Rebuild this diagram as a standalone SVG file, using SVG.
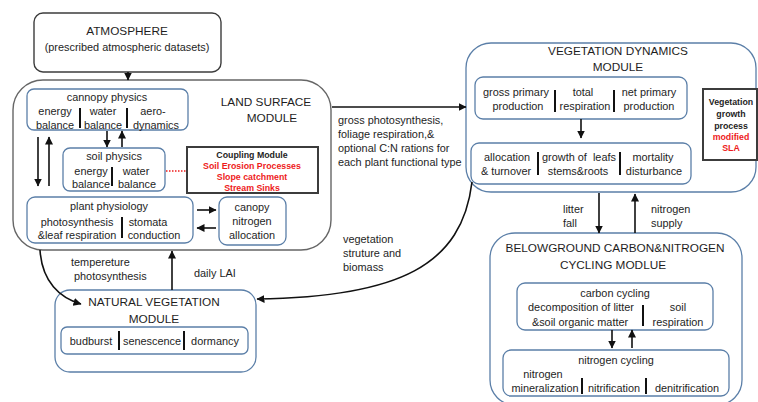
<svg xmlns="http://www.w3.org/2000/svg" width="758" height="402" viewBox="0 0 758 402">
<style>
text{font-family:"Liberation Sans",Arial,sans-serif;fill:#1e1e1e;text-anchor:middle;dominant-baseline:central;white-space:pre}
.t{font-size:10.9px}
.h{font-size:11.8px}
.b{font-size:8.8px;font-weight:bold}
.r{fill:#ee1c1c}
.l{text-anchor:start}
.nb{fill:#fff;stroke:#5b7fa8;stroke-width:1.3}
.gb{fill:#fff;stroke:#666;stroke-width:1.4}
.kb{fill:#fff;stroke:#3c3c3c;stroke-width:2}
.sep{stroke:#111;stroke-width:2}
.c{fill:none;stroke:#111;stroke-width:1.6;marker-end:url(#ah)}
</style>
<defs>
<marker id="ah" markerUnits="userSpaceOnUse" markerWidth="9" markerHeight="9" refX="7.5" refY="4" orient="auto">
<path d="M0,0 L8,4 L0,8 z" fill="#111"/>
</marker>
</defs>

<g id="atmosphere">
<rect x="34" y="13" width="187" height="59" rx="9" class="gb" style="stroke:#3c3c3c"/>
<text x="127" y="31" class="h">ATMOSPHERE</text>
<text x="127" y="47" class="t">(prescribed atmospheric datasets)</text>
</g>

<g id="land-surface">
<rect x="13" y="80" width="318" height="170" rx="30" class="gb"/>
<text x="266" y="102" class="h">LAND SURFACE</text>
<text x="272" y="118" class="h">MODULE</text>
</g>

<g id="canopy-physics">
<rect x="27" y="89" width="161" height="41" rx="7" class="nb"/>
<text x="107" y="97" class="t">cannopy physics</text>
<text x="55" y="111" class="t">energy</text>
<text x="55" y="125" class="t">balance</text>
<line x1="80" y1="108" x2="80" y2="128" class="sep"/>
<text x="103" y="111" class="t">water</text>
<text x="103" y="125" class="t">balance</text>
<line x1="127" y1="108" x2="127" y2="128" class="sep"/>
<text x="153" y="111" class="t">aero-</text>
<text x="156" y="125" class="t">dynamics</text>
</g>

<g id="soil-physics">
<rect x="63" y="148" width="102" height="43" rx="7" class="nb"/>
<text x="114" y="156" class="t">soil physics</text>
<text x="91" y="171" class="t">energy</text>
<text x="91" y="184" class="t">balance</text>
<line x1="112" y1="167" x2="112" y2="186" class="sep"/>
<text x="136" y="171" class="t">water</text>
<text x="137" y="184" class="t">balance</text>
</g>

<g id="coupling-module">
<rect x="187" y="147" width="131" height="46" class="kb"/>
<text x="252" y="155" class="b">Coupling Module</text>
<text x="252" y="166" class="b r">Soil Erosion Processes</text>
<text x="252" y="177" class="b r">Slope catchment</text>
<text x="252" y="188" class="b r">Stream Sinks</text>
</g>

<g id="plant-physiology">
<rect x="27" y="197" width="166" height="46" rx="8" class="nb"/>
<text x="109" y="206" class="t">plant physiology</text>
<text x="77" y="222" class="t">photosynthesis</text>
<text x="77" y="235" class="t">&amp;leaf respiration</text>
<line x1="122" y1="217" x2="122" y2="238" class="sep"/>
<text x="148" y="222" class="t">stomata</text>
<text x="154" y="235" class="t">conduction</text>
</g>

<g id="canopy-nitrogen">
<rect x="219" y="197" width="67" height="48" rx="8" class="nb"/>
<text x="252" y="207" class="t">canopy</text>
<text x="252" y="221" class="t">nitrogen</text>
<text x="252" y="235" class="t">allocation</text>
</g>

<g id="natural-vegetation">
<rect x="55" y="290" width="201" height="82" rx="15" class="nb"/>
<text x="154" y="302" class="h">NATURAL VEGETATION</text>
<text x="154" y="319" class="h">MODULE</text>
<rect x="61" y="327" width="187" height="27" rx="6" class="nb"/>
<text x="91" y="341" class="t">budburst</text>
<line x1="119" y1="331" x2="119" y2="350" class="sep"/>
<text x="152" y="341" class="t">senescence</text>
<line x1="184" y1="331" x2="184" y2="350" class="sep"/>
<text x="215" y="341" class="t">dormancy</text>
</g>

<g id="vegetation-dynamics">
<rect x="466" y="43" width="290" height="149" rx="25" class="nb"/>
<text x="618" y="51" class="h">VEGETATION DYNAMICS</text>
<text x="618" y="67" class="h">MODULE</text>
<rect x="475" y="77" width="212" height="42" rx="8" class="nb"/>
<text x="516" y="92" class="t">gross primary</text>
<text x="518" y="106" class="t">production</text>
<line x1="555" y1="90" x2="555" y2="112" class="sep"/>
<text x="583" y="92" class="t">total</text>
<text x="585" y="106" class="t">respiration</text>
<line x1="614" y1="90" x2="614" y2="112" class="sep"/>
<text x="649" y="92" class="t">net primary</text>
<text x="649" y="106" class="t">production</text>
<rect x="471" y="143" width="220" height="41" rx="8" class="nb"/>
<text x="507" y="157" class="t">allocation</text>
<text x="506" y="171" class="t">&amp; turnover</text>
<line x1="538" y1="152" x2="538" y2="175" class="sep"/>
<text x="579" y="157" class="t">growth of  leafs</text>
<text x="578" y="171" class="t">stems&amp;roots</text>
<line x1="620" y1="152" x2="620" y2="175" class="sep"/>
<text x="653" y="157" class="t">mortality</text>
<text x="654" y="171" class="t">disturbance</text>
</g>

<g id="vegetation-growth">
<rect x="703" y="89" width="54" height="71" class="kb"/>
<text x="731" y="102" class="b">Vegetation</text>
<text x="731" y="114" class="b">growth</text>
<text x="731" y="126" class="b">process</text>
<text x="731" y="137" class="b r">modified</text>
<text x="731" y="148" class="b r">SLA</text>
</g>

<g id="belowground">
<rect x="490" y="233" width="252" height="172" rx="25" class="nb"/>
<text x="615" y="248" class="h">BELOWGROUND CARBON&amp;NITROGEN</text>
<text x="613" y="265" class="h">CYCLING MODLUE</text>
<rect x="517" y="283" width="196" height="47" rx="8" class="nb"/>
<text x="615" y="293" class="t">carbon cycling</text>
<text x="581" y="307" class="t">decomposition of litter</text>
<text x="580" y="322" class="t">&amp;soil organic matter</text>
<line x1="643" y1="305" x2="643" y2="326" class="sep"/>
<text x="678" y="307" class="t">soil</text>
<text x="678" y="322" class="t">respiration</text>
<rect x="503" y="350" width="226" height="46" rx="8" class="nb"/>
<text x="616" y="360" class="t">nitrogen cycling</text>
<text x="543" y="374" class="t">nitrogen</text>
<text x="545" y="388" class="t">mineralization</text>
<line x1="582" y1="378" x2="582" y2="394" class="sep"/>
<text x="614" y="388" class="t">nitrification</text>
<line x1="646" y1="378" x2="646" y2="394" class="sep"/>
<text x="687" y="388" class="t">denitrification</text>
</g>

<g id="connectors">
<path d="M128,72 V80" class="c"/>
<path d="M107,131 V147" class="c"/>
<path d="M122,147 V131" class="c"/>
<path d="M38,137 V186" class="c"/>
<path d="M49,186 V137" class="c"/>
<path d="M197,210 H216" class="c"/>
<path d="M216,228 H197" class="c"/>
<path d="M166,171 H186" fill="none" stroke="#ee1c1c" stroke-width="1.3" stroke-dasharray="1.5,1.5"/>
<path d="M40,250 C42,282 60,298 81,304" class="c"/>
<path d="M172,290 V251" class="c"/>
<path d="M332,107 H466" class="c"/>
<path d="M472,182 C462,265 400,297 257,299" class="c"/>
<path d="M581,119 V138" class="c"/>
<path d="M599,193 V233" class="c"/>
<path d="M635,233 V194" class="c"/>
<path d="M612,330 V348" class="c"/>
<path d="M632,348 V330" class="c"/>
<text x="71" y="262" class="t l">tempereture</text>
<text x="74" y="276" class="t l">photosynthesis</text>
<text x="194" y="273" class="t l">daily LAI</text>
<text x="338" y="120" class="t l">gross photosynthesis,</text>
<text x="338" y="134" class="t l">foliage respiration,&amp;</text>
<text x="338" y="148" class="t l">optional C:N rations for</text>
<text x="338" y="162" class="t l">each plant functional type</text>
<text x="343" y="239" class="t l">vegetation</text>
<text x="343" y="253" class="t l">struture and</text>
<text x="343" y="267" class="t l">biomass</text>
<text x="563" y="209" class="t l">litter</text>
<text x="563" y="223" class="t l">fall</text>
<text x="651" y="209" class="t l">nitrogen</text>
<text x="651" y="223" class="t l">supply</text>
</g>
</svg>
